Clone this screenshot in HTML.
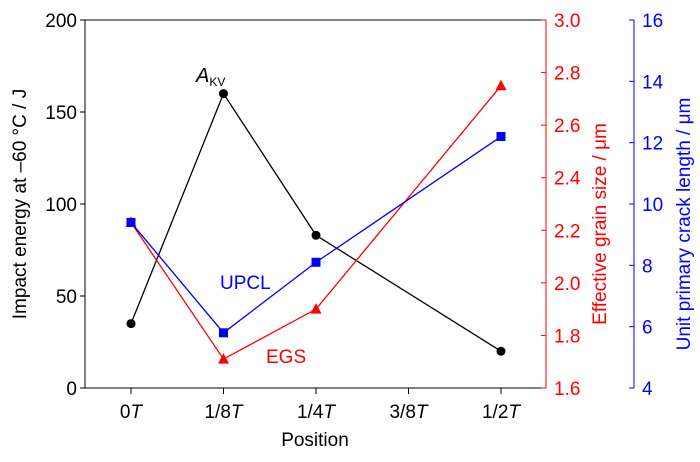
<!DOCTYPE html>
<html><head><meta charset="utf-8"><style>
body{margin:0;background:#fff}
svg text{font-family:"Liberation Sans",Arial,sans-serif}
</style></head><body>
<svg id="chart" width="700" height="457" xmlns="http://www.w3.org/2000/svg"></svg>
<script>
const categories=["0","1/8","1/4","3/8","1/2"];
const akv=[35,160,83,null,20];
const egs=[2.23,1.71,1.90,null,2.75];
const upcl=[9.4,5.8,8.1,null,12.2];
const leftTicks=[0,50,100,150,200];
const redTicks=[1.6,1.8,2.0,2.2,2.4,2.6,2.8,3.0];
const blueTicks=[4,6,8,10,12,14,16];

const NS="http://www.w3.org/2000/svg";
const svg=document.getElementById('chart');
const L=85,R=546,T=20,B=388,BX=634;
const x=i=>131+i*92.5;
const yL=v=>B-(v/200)*(B-T);
const yR=v=>B-((v-1.6)/1.4)*(B-T);
const yB=v=>B-((v-4)/12)*(B-T);
function el(tag,attrs,txt){const e=document.createElementNS(NS,tag);for(const k in attrs)e.setAttribute(k,attrs[k]);if(txt!=null)e.textContent=txt;svg.appendChild(e);return e;}

let e;
e=el('path',{d:`M${L},${T}H${R}M${L},${T}V${B}H${R}`,stroke:'#000',fill:'none','stroke-width':1});

e=el('line',{x1:R,y1:T,x2:R,y2:B,stroke:'#f00','stroke-width':1});

e=el('line',{x1:BX,y1:T,x2:BX,y2:B,stroke:'#00f','stroke-width':1});


leftTicks.forEach(v=>{
 el('line',{x1:L-5,x2:L,y1:yL(v),y2:yL(v),stroke:'#000'});
 e=el('text',{x:L-8,y:yL(v)+7,'text-anchor':'end','font-size':19,fill:'#000'},v);
 
});
redTicks.forEach(v=>{
 el('line',{x1:R-5,x2:R,y1:yR(v),y2:yR(v),stroke:'#f00'});
 e=el('text',{x:R+8,y:yR(v)+7,'font-size':19,fill:'#f00'},v.toFixed(1));
 
});
blueTicks.forEach(v=>{
 el('line',{x1:BX-5,x2:BX,y1:yB(v),y2:yB(v),stroke:'#00f'});
 e=el('text',{x:BX+8,y:yB(v)+7,'font-size':19,fill:'#00f'},v);
 
});
categories.forEach((c,i)=>{
 el('line',{x1:x(i),x2:x(i),y1:B,y2:B+6,stroke:'#000'});
 e=el('text',{x:x(i),y:B+30,'text-anchor':'middle','font-size':19,fill:'#000'});
 
 e.innerHTML=c+'<tspan font-style="italic">T</tspan>';
});

function series(vals,yf,color,name,marker){
 const pts=vals.map((v,i)=>v==null?null:[x(i),yf(v)]).filter(p=>p);
 e=el('polyline',{points:pts.map(p=>p.join(',')).join(' '),fill:'none',stroke:color,'stroke-width':1.3});
 
 pts.forEach(p=>{
  if(marker==='circle')e=el('circle',{cx:p[0],cy:p[1],r:4.5,fill:color});
  else if(marker==='square')e=el('rect',{x:p[0]-4.5,y:p[1]-4.5,width:9,height:9,fill:color});
  else e=el('polygon',{points:`${p[0]},${p[1]-6} ${p[0]-5.5},${p[1]+4.5} ${p[0]+5.5},${p[1]+4.5}`,fill:color});
  
 });
}
series(akv,yL,'#000','akv','circle');
series(egs,yR,'#f00','egs','triangle');
series(upcl,yB,'#00f','upcl','square');

e=el('text',{x:196,y:82,'font-size':20,'font-style':'italic',fill:'#000'});

e.innerHTML='A<tspan font-size="12" font-style="normal" dy="4">KV</tspan>';
e=el('text',{x:220,y:289,'font-size':19,fill:'#00f'},'UPCL');

e=el('text',{x:266,y:363,'font-size':19,fill:'#f00'},'EGS');

e=el('text',{x:315,y:446,'text-anchor':'middle','font-size':19,fill:'#000'},'Position');

e=el('text',{transform:`translate(26,${(T+B)/2}) rotate(-90)`,'text-anchor':'middle','font-size':19,fill:'#000'},'Impact  energy at \u201360 \u00B0C / J');

e=el('text',{transform:`translate(606,${(T+B)/2+20}) rotate(-90)`,'text-anchor':'middle','font-size':19,fill:'#f00'},'Effective grain size / \u03BCm');

e=el('text',{transform:`translate(690,${(T+B)/2+20}) rotate(-90)`,'text-anchor':'middle','font-size':19,fill:'#00f'},'Unit primary crack length / \u03BCm');

</script>
</body></html>
